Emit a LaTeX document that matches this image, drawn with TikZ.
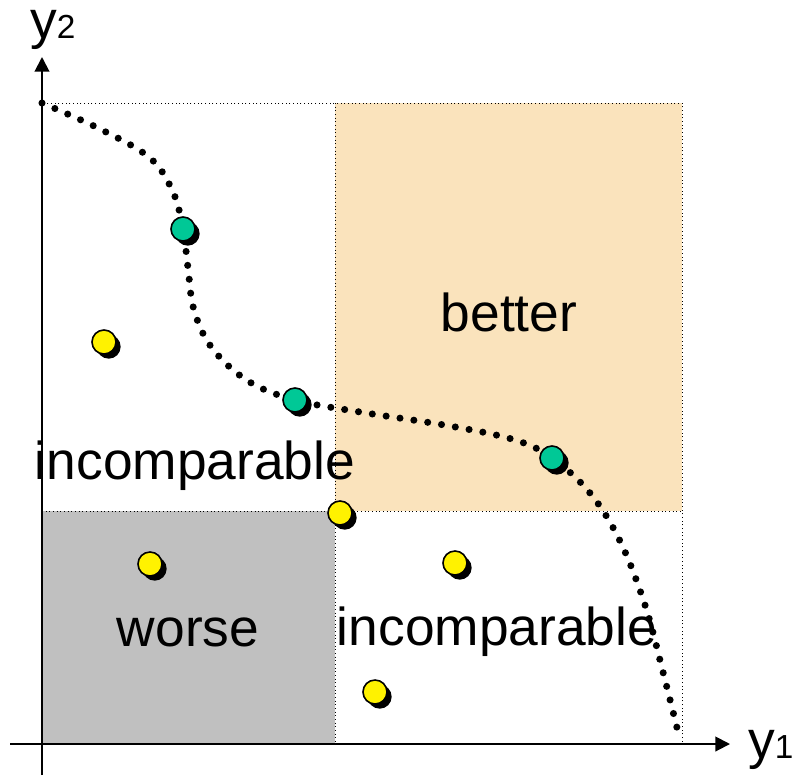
\documentclass[tikz,border=0pt]{standalone}
\usepackage{fontspec}
\setmainfont{Liberation Sans}
\usetikzlibrary{arrows.meta,shadows}
\definecolor{bettercol}{RGB}{250,227,188}
\definecolor{worsecol}{RGB}{192,192,192}
\definecolor{frontcol}{RGB}{0,200,150}
\tikzset{
  axis/.style={line width=1.5pt,-{Triangle[length=11pt,width=11pt]}},
  grid line/.style={dotted,line width=0.75pt},
  front/.style={line width=5.3pt,line cap=round,dash pattern=on 0pt off 10.5pt},
  sol/.style={circle,draw=black,line width=1.2pt,minimum size=18pt,inner sep=0pt,
    drop shadow={shadow xshift=3.5pt,shadow yshift=-3.5pt,opacity=1,fill=black}},
  optimal/.style={sol,fill=frontcol},
  other/.style={sol,fill=yellow},
  region/.style={font=\fontsize{40}{48}\selectfont}
}
\begin{document}
\begin{tikzpicture}[x=0.75pt,y=-0.75pt]
\useasboundingbox (0,0) rectangle (792,776);
% regions
\fill[bettercol] (335,103) rectangle (682,511);
\fill[worsecol] (42,511) rectangle (335,744);
\draw[grid line] (42,103) rectangle (682,744);
\draw[grid line] (335,103) -- (335,744);
\draw[grid line] (42,511) -- (682,511);
% axes
\coordinate (o1) at (10,744);
\coordinate (e1) at (730,744);
\coordinate (o2) at (42,775);
\coordinate (e2) at (42,57);
\draw[axis] (o1) -- (e1);
\draw[axis] (o2) -- (e2);
\node[anchor=base west,inner sep=0pt] (y2) at (30,38)
  {\fontsize{40}{48}\selectfont y{\fontsize{25}{30}\selectfont 2}};
\node[anchor=base west,inner sep=0pt] (y1) at (748,758)
  {\fontsize{40}{48}\selectfont y{\fontsize{25}{30}\selectfont 1}};
% front
\draw[front] plot[smooth,tension=0.6] coordinates {(42,103) (100,129) (150,158)
  (173,192) (183,229) (188,268) (194,310) (212,348) (248,381) (295,400)
  (360,412) (450,426) (515,440) (552,458) (590,493) (620,541) (645,605)
  (663,672) (680,740)};
% solutions
\node[optimal] (a) at (183,229) {};
\node[optimal] (b) at (295,400) {};
\node[optimal] (c) at (552,458) {};
\node[other] (d) at (104,342) {};
\node[other] (e) at (150,564) {};
\node[other] (f) at (340,513) {};
\node[other] (g) at (455,563) {};
\node[other] (h) at (375,692) {};
% labels
\node[region] (better) at (509,312) {better};
\node[region] (inc1) at (195,466) {incomparable};
\node[region] (worse) at (188,632) {worse};
\node[region] (inc2) at (497,632) {incomparable};
\end{tikzpicture}
\end{document}
